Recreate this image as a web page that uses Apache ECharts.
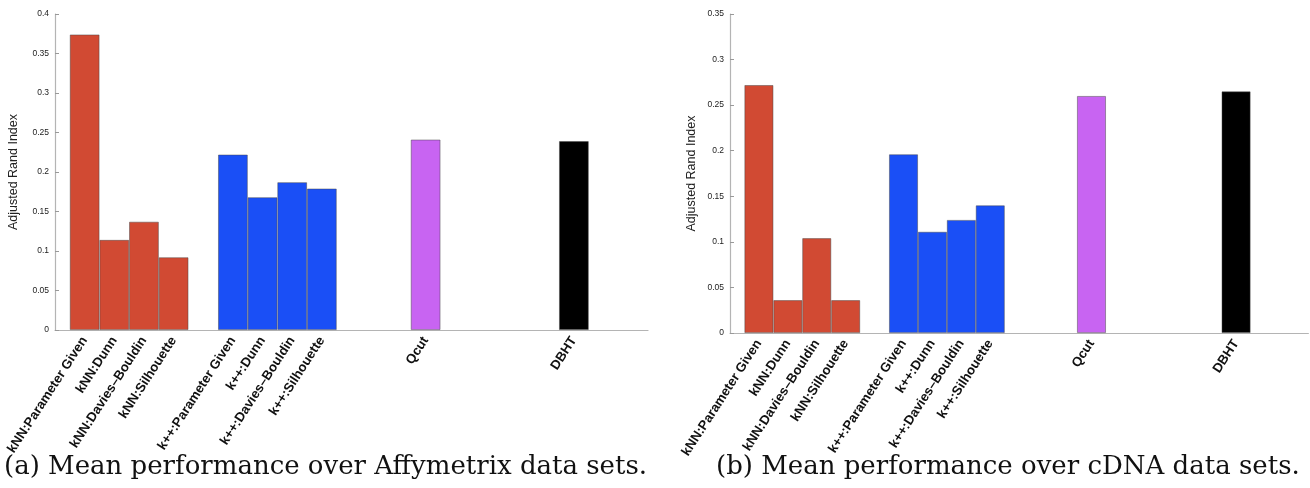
<!DOCTYPE html>
<html>
<head>
<meta charset="utf-8">
<script src="https://cdn.jsdelivr.net/npm/echarts@6/dist/echarts.min.js"></script>
<style>
html,body{margin:0;padding:0;background:#fff;}
#chart{width:1310px;height:488px;}
</style>
</head>
<body>
<div id="chart"></div>
<script>
// ---- data ----
var methods = ['kNN:Parameter Given','kNN:Dunn','kNN:Davies\u2013Bouldin','kNN:Silhouette',
               'k++:Parameter Given','k++:Dunn','k++:Davies\u2013Bouldin','k++:Silhouette',
               'Qcut','DBHT'];
var groupOf = ['kNN','kNN','kNN','kNN','kpp','kpp','kpp','kpp','Qcut','DBHT'];
var affyValues = [0.374, 0.114, 0.137, 0.092, 0.222, 0.168, 0.187, 0.179, 0.241, 0.239];
var cdnaValues = [0.272, 0.036, 0.104, 0.036, 0.196, 0.111, 0.124, 0.140, 0.260, 0.265];
var affyTicks = [0, 0.05, 0.1, 0.15, 0.2, 0.25, 0.3, 0.35, 0.4];
var cdnaTicks = [0, 0.05, 0.1, 0.15, 0.2, 0.25, 0.3, 0.35];
var captions = ['(a) Mean performance over Affymetrix data sets.',
                '(b) Mean performance over cDNA data sets.'];

// ---- styling / layout (not data) ----
var groupColors = {kNN:'#d14a33', kpp:'#1a4ff6', Qcut:'#c864f2', DBHT:'#000000'};
// half-slot index of each bar on the axis (gaps between groups), axis spans 0..40
var slotIndex = [2,4,6,8,12,14,16,18,25,35];
var nSlots = 41;

var cats = [];
for (var i = 0; i < nSlots; i++) cats.push('');
methods.forEach(function(m, k){ cats[slotIndex[k]] = m; });

function buildData(values){
  var d = [];
  for (var i = 0; i < nSlots; i++) d.push('-');
  values.forEach(function(v, k){
    d[slotIndex[k]] = {value: v, itemStyle: {color: groupColors[groupOf[k]]}};
  });
  return d;
}

function xAxisFor(gi){
  return {
    type:'category', gridIndex: gi, data: cats, boundaryGap: false,
    axisLine:{lineStyle:{color:'#b4b4b4', width:1.2}},
    axisTick:{show:false},
    axisLabel:{interval:0, rotate:57, margin:8, fontFamily:'Liberation Sans',
               fontWeight:'bold', fontSize:13.2, color:'#111'},
    splitLine:{show:false}
  };
}
function yAxisFor(gi, ticks){
  return {
    type:'value', gridIndex: gi, min: ticks[0], max: ticks[ticks.length-1],
    interval: ticks[1]-ticks[0],
    name:'Adjusted Rand Index', nameLocation:'middle', nameRotate:90,
    nameGap: gi === 0 ? 35 : 32,
    nameTextStyle:{fontFamily:'Liberation Sans', fontSize:12.5, color:'#222'},
    axisLine:{show:true, lineStyle:{color:'#b4b4b4', width:1.2}},
    axisTick:{show:true, inside:true, length:4, lineStyle:{color:'#999'}},
    axisLabel:{fontFamily:'Liberation Sans', fontSize:8.5, color:'#222', margin:6,
               formatter:function(v){ return String(+v.toFixed(2)); }},
    splitLine:{show:false}
  };
}

var chart = echarts.init(document.getElementById('chart'), null, {renderer:'canvas'});
chart.setOption({
  animation:false,
  backgroundColor:'#fff',
  grid:[
    {left:55, top:14, width:593, height:316},
    {left:730, top:14, width:583, height:319}
  ],
  xAxis:[xAxisFor(0), xAxisFor(1)],
  yAxis:[yAxisFor(0, affyTicks), yAxisFor(1, cdnaTicks)],
  series:[
    {type:'bar', xAxisIndex:0, yAxisIndex:0, barWidth:'200%', data: buildData(affyValues),
     itemStyle:{borderColor:'rgba(70,70,70,0.6)', borderWidth:0.8}},
    {type:'bar', xAxisIndex:1, yAxisIndex:1, barWidth:'200%', data: buildData(cdnaValues),
     itemStyle:{borderColor:'rgba(70,70,70,0.6)', borderWidth:0.8}}
  ],
  graphic:[
    {type:'text', left:4, top:454, style:{text:captions[0], font:'26px "DejaVu Serif"', fill:'#111'}},
    {type:'text', left:716, top:454, style:{text:captions[1], font:'26px "DejaVu Serif"', fill:'#111'}}
  ]
});
</script>
</body>
</html>
